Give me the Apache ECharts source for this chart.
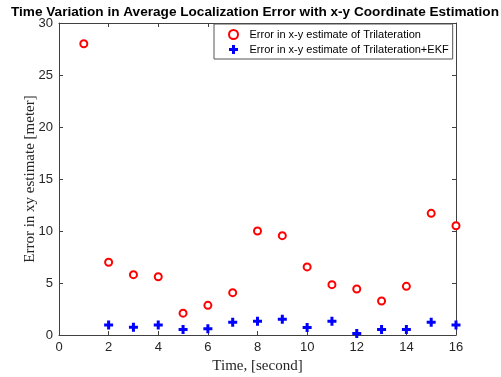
<!DOCTYPE html>
<html>
<head>
<meta charset="utf-8">
<script src="https://cdn.jsdelivr.net/npm/echarts@6/dist/echarts.min.js"></script>
<style>
  html, body { margin: 0; padding: 0; background: #fff; }
  #chart { width: 501px; height: 377px; }
</style>
</head>
<body>
<div id="chart"></div>
<script>
// values
const timeTri = [1, 2, 3, 4, 5, 6, 7, 8, 9, 10, 11, 12, 13, 14, 15, 16]
const errTri = [28.0, 7.0, 5.8, 5.6, 2.1, 2.85, 4.07, 10.0, 9.55, 6.55, 4.84, 4.42, 3.27, 4.68, 11.7, 10.5]
const timeEkf = [2, 3, 4, 5, 6, 7, 8, 9, 10, 11, 12, 13, 14, 15, 16]
const errEkf = [0.97, 0.74, 0.97, 0.52, 0.61, 1.23, 1.32, 1.52, 0.71, 1.33, 0.14, 0.52, 0.52, 1.23, 0.97]

const AXIS = '#404040'
const TEXT = '#262626'
const PLUS = 'path://M3,0H6V3H9V6H6V9H3V6H0V3H3Z'

const chart = echarts.init(document.getElementById('chart'))

// MATLAB style box: ticks point into the plot, axes stay on the edges
const tick = () => ({ show: true, inside: true, length: 4, lineStyle: { color: AXIS } })
const line = () => ({ show: true, onZero: false, lineStyle: { color: AXIS } })
const labelStyle = { color: TEXT, fontFamily: 'Liberation Sans, Arial', fontSize: 13 }
const nameStyle = { fontFamily: 'Liberation Serif, Times New Roman', fontSize: 15, color: TEXT }

chart.setOption({
  animation: false,
  backgroundColor: '#fff',
  title: {
    text: 'Time Variation in Average Localization Error with x-y Coordinate Estimation',
    left: 11,
    top: 5,
    padding: 0,
    textStyle: { fontFamily: 'Liberation Sans, Arial', fontSize: 13.6, fontWeight: 'bold', color: '#000' },
  },
  grid: { left: 59, right: 45, top: 23, bottom: 42, containLabel: false, outerBoundsMode: 'none' },
  legend: {
    orient: 'vertical',
    left: 214,
    top: 24,
    padding: [5, 4, 4, 14],
    itemGap: 4,
    itemWidth: 22,
    itemHeight: 9,
    backgroundColor: '#fff',
    borderColor: '#555',
    borderWidth: 1,
    textStyle: { fontFamily: 'Liberation Sans, Arial', fontSize: 11, color: '#000' },
    data: [
      { name: 'Error in x-y estimate of Trilateration', icon: 'circle',
        itemStyle: { color: '#fff', borderColor: '#ff0000', borderWidth: 2 } },
      { name: 'Error in x-y estimate of Trilateration+EKF', icon: PLUS,
        itemStyle: { color: '#0000ff' } },
    ],
  },
  xAxis: [
    {
      type: 'value', min: 0, max: 16, interval: 2,
      name: 'Time, [second]', nameLocation: 'middle', nameGap: 24, nameMoveOverlap: false,
      nameTextStyle: nameStyle,
      axisLine: line(),
      axisTick: tick(),
      axisLabel: { ...labelStyle, margin: 6 },
      splitLine: { show: false },
    },
    {
      type: 'value', min: 0, max: 16, interval: 2, position: 'top',
      axisLine: line(),
      axisTick: tick(),
      axisLabel: { show: false },
      splitLine: { show: false },
    },
  ],
  yAxis: [
    {
      type: 'value', min: 0, max: 30, interval: 5,
      name: 'Error in xy estimate [meter]', nameLocation: 'middle', nameGap: 21, nameMoveOverlap: false,
      nameTextStyle: nameStyle,
      axisLine: line(),
      axisTick: tick(),
      axisLabel: { ...labelStyle, margin: 6 },
      splitLine: { show: false },
    },
    {
      type: 'value', min: 0, max: 30, interval: 5, position: 'right',
      axisLine: line(),
      axisTick: tick(),
      axisLabel: { show: false },
      splitLine: { show: false },
    },
  ],
  series: [
    {
      name: 'Error in x-y estimate of Trilateration',
      type: 'scatter',
      symbol: 'circle',
      symbolSize: 7,
      clip: false,
      itemStyle: { color: '#fff', borderColor: '#ff0000', borderWidth: 2, opacity: 1 },
      data: timeTri.map((t, i) => [t, errTri[i]]),
    },
    {
      name: 'Error in x-y estimate of Trilateration+EKF',
      type: 'scatter',
      symbol: PLUS,
      symbolSize: 9,
      clip: false,
      itemStyle: { color: '#0000ff', opacity: 1 },
      data: timeEkf.map((t, i) => [t, errEkf[i]]),
    },
  ],
})
</script>
</body>
</html>
